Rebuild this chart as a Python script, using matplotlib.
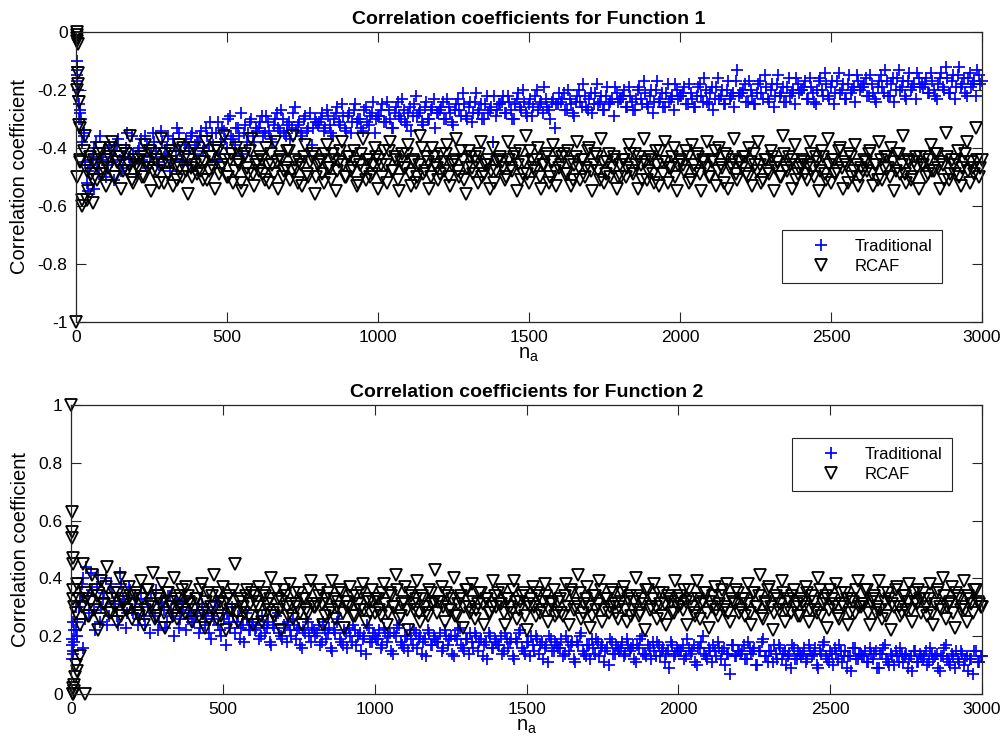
import numpy as np
import matplotlib.pyplot as plt
from matplotlib.ticker import FuncFormatter

plt.rcParams['font.family'] = ['Liberation Sans', 'DejaVu Sans']
plt.rcParams['axes.unicode_minus'] = False


# Data (values in hundredths)
# "_a" lists: n_a = 10, 20, ..., 3000 ; "_b" lists: n_a = 5, 15, ..., 2995

trad_f1_a = [
    -30, -38, -45, -48, -44, -40, -47, -36, -43, -50, -39, -45, -41, -37, -48, -43, -35, -46, -42, -49,
    -40, -44, -36, -47, -42, -38, -45, -34, -43, -40, -48, -37, -41, -35, -44, -39, -46, -36, -42, -38,
    -36, -41, -33, -39, -35, -44, -31, -38, -34, -40, -29, -37, -33, -36, -42, -32, -35, -30, -38, -34,
    -31, -36, -29, -34, -38, -30, -33, -27, -35, -32, -37, -28, -34, -31, -36, -29, -33, -39, -30, -32,
    -30, -34, -27, -32, -36, -28, -31, -25, -33, -29, -35, -27, -31, -30, -34, -26, -32, -28, -35, -29,
    -27, -31, -24, -30, -33, -26, -29, -23, -31, -28, -34, -25, -29, -27, -32, -24, -30, -26, -33, -28,
    -26, -30, -23, -28, -32, -25, -27, -21, -29, -26, -31, -24, -28, -25, -30, -22, -27, -38, -29, -25,
    -24, -28, -22, -27, -30, -23, -26, -20, -28, -25, -29, -22, -27, -24, -19, -26, -30, -23, -25, -21,
    -23, -27, -20, -25, -29, -22, -24, -18, -26, -23, -28, -21, -25, -22, -27, -19, -24, -29, -21, -23,
    -22, -26, -19, -24, -27, -20, -23, -17, -25, -22, -28, -20, -24, -21, -26, -18, -23, -27, -20, -22,
    -21, -25, -18, -23, -26, -19, -22, -16, -24, -21, -27, -19, -23, -20, -25, -17, -22, -26, -13, -21,
    -20, -24, -17, -22, -25, -18, -21, -15, -23, -20, -26, -18, -22, -19, -24, -16, -21, -25, -18, -20,
    -19, -23, -16, -21, -25, -17, -20, -14, -22, -19, -25, -17, -21, -18, -23, -15, -20, -24, -17, -19,
    -18, -22, -15, -21, -24, -17, -19, -13, -22, -18, -24, -16, -20, -17, -23, -14, -19, -23, -16, -18,
    -18, -21, -14, -20, -23, -16, -19, -12, -21, -17, -23, -15, -19, -16, -22, -14, -18, -22, -15, -17,
]
trad_f1_b = [
    -12, -27, -36, -52, -46, -43, -38, -49, -44, -40, -46, -42, -51, -39, -44, -47, -40, -43, -36, -45,
    -41, -37, -45, -39, -43, -35, -41, -46, -38, -42, -36, -44, -39, -33, -41, -45, -37, -40, -35, -39,
    -38, -34, -40, -36, -31, -39, -35, -42, -33, -37, -30, -36, -39, -33, -28, -35, -38, -31, -36, -33,
    -33, -29, -35, -31, -37, -32, -28, -34, -30, -36, -31, -33, -26, -32, -35, -30, -34, -28, -33, -31,
    -31, -28, -33, -29, -35, -30, -26, -32, -29, -34, -28, -31, -25, -30, -33, -27, -31, -29, -24, -30,
    -29, -25, -31, -27, -33, -28, -24, -30, -27, -32, -26, -29, -22, -28, -31, -26, -30, -27, -23, -28,
    -27, -24, -30, -26, -31, -27, -23, -29, -25, -30, -24, -28, -21, -27, -30, -25, -28, -26, -22, -27,
    -25, -22, -28, -24, -30, -25, -21, -27, -24, -29, -23, -26, -20, -25, -28, -23, -27, -24, -33, -25,
    -24, -21, -27, -23, -28, -24, -20, -26, -22, -27, -21, -25, -18, -24, -27, -22, -25, -23, -19, -24,
    -23, -20, -26, -22, -27, -23, -19, -25, -21, -26, -20, -24, -17, -23, -26, -21, -24, -22, -18, -23,
    -22, -19, -25, -21, -26, -22, -18, -24, -20, -25, -19, -23, -16, -22, -25, -20, -23, -21, -17, -22,
    -21, -18, -24, -20, -25, -21, -17, -23, -19, -24, -18, -22, -15, -21, -24, -19, -22, -20, -16, -21,
    -20, -17, -23, -19, -24, -20, -16, -22, -18, -23, -17, -21, -14, -20, -23, -18, -21, -19, -15, -20,
    -19, -16, -22, -18, -23, -19, -15, -21, -17, -22, -16, -20, -13, -19, -22, -17, -20, -18, -14, -19,
    -19, -16, -21, -17, -22, -18, -14, -20, -16, -21, -15, -19, -12, -18, -21, -16, -19, -17, -13, -18,
]

rcaf_f1_a = [
    -32, -58, -36, -55, -49, -44, -51, -40, -47, -53, -43, -38, -50, -45, -54, -41, -48, -36, -52, -46,
    -44, -50, -39, -47, -55, -42, -48, -37, -52, -45, -41, -53, -46, -39, -50, -43, -56, -47, -40, -49,
    -45, -51, -38, -48, -43, -54, -41, -47, -36, -50, -44, -52, -40, -46, -55, -42, -49, -37, -53, -45,
    -43, -49, -40, -52, -46, -38, -54, -44, -48, -41, -51, -36, -47, -45, -53, -39, -50, -43, -56, -46,
    -44, -52, -39, -47, -42, -55, -45, -38, -50, -43, -48, -41, -53, -46, -37, -51, -44, -49, -40, -54,
    -46, -41, -52, -38, -48, -44, -55, -42, -47, -39, -53, -45, -50, -36, -49, -43, -54, -40, -46, -51,
    -42, -48, -39, -53, -45, -37, -50, -44, -56, -41, -47, -43, -52, -38, -49, -46, -54, -40, -48, -44,
    -45, -51, -38, -47, -43, -55, -41, -49, -36, -52, -44, -48, -40, -54, -46, -42, -50, -39, -53, -47,
    -43, -49, -41, -53, -46, -38, -51, -44, -47, -40, -55, -42, -48, -37, -52, -45, -50, -43, -54, -46,
    -44, -50, -39, -48, -42, -54, -46, -37, -51, -43, -49, -41, -53, -45, -38, -52, -47, -40, -55, -44,
    -46, -41, -52, -39, -48, -43, -55, -45, -38, -50, -44, -53, -40, -47, -42, -54, -46, -37, -51, -45,
    -43, -49, -40, -53, -46, -38, -52, -44, -48, -41, -55, -45, -50, -36, -47, -43, -54, -39, -49, -46,
    -45, -51, -38, -47, -43, -55, -41, -49, -37, -52, -44, -48, -40, -54, -46, -42, -50, -39, -53, -47,
    -44, -48, -41, -53, -46, -38, -51, -43, -47, -40, -55, -42, -49, -36, -52, -45, -50, -43, -54, -46,
    -43, -49, -39, -48, -42, -54, -46, -35, -51, -44, -49, -41, -53, -45, -38, -52, -47, -33, -50, -44,
]
rcaf_f1_b = [
    -20, -45, -41, -48, -43, -51, -46, -42, -49, -44, -47, -40, -50, -45, -43, -48, -42, -46, -51, -44,
    -47, -43, -50, -45, -41, -48, -44, -52, -46, -42, -49, -45, -43, -51, -47, -40, -48, -44, -50, -46,
    -42, -48, -45, -51, -43, -47, -40, -49, -46, -44, -50, -42, -48, -45, -52, -43, -47, -41, -49, -46,
    -48, -44, -51, -46, -42, -49, -45, -43, -50, -47, -41, -48, -44, -52, -46, -43, -49, -45, -42, -50,
    -45, -49, -42, -47, -51, -44, -48, -41, -46, -50, -43, -47, -45, -52, -42, -48, -44, -50, -46, -43,
    -44, -50, -46, -41, -48, -43, -51, -45, -47, -42, -49, -44, -52, -46, -40, -48, -45, -50, -43, -47,
    -49, -45, -42, -50, -46, -44, -48, -41, -51, -47, -43, -49, -45, -42, -50, -46, -44, -48, -52, -45,
    -43, -47, -50, -44, -48, -42, -46, -51, -45, -49, -41, -47, -44, -50, -46, -43, -52, -45, -48, -42,
    -46, -42, -49, -45, -51, -43, -47, -44, -50, -41, -48, -46, -43, -51, -45, -49, -42, -47, -44, -50,
    -50, -44, -47, -42, -49, -46, -43, -51, -45, -48, -44, -52, -46, -41, -49, -45, -47, -43, -50, -46,
    -45, -48, -43, -51, -46, -42, -49, -44, -47, -50, -45, -41, -48, -46, -52, -43, -47, -44, -49, -45,
    -47, -43, -50, -45, -42, -48, -46, -51, -44, -49, -43, -47, -45, -50, -42, -48, -46, -44, -51, -47,
    -44, -49, -46, -42, -50, -45, -48, -43, -51, -46, -44, -49, -41, -47, -45, -52, -43, -48, -46, -50,
    -48, -45, -42, -49, -46, -51, -44, -47, -43, -50, -45, -48, -42, -46, -49, -44, -51, -45, -47, -43,
    -46, -50, -44, -48, -42, -47, -45, -51, -43, -49, -46, -44, -50, -47, -42, -48, -45, -49, -44, -47,
]

trad_f2_a = [
    18, 25, 32, 40, 44, 28, 36, 22, 41, 30, 35, 24, 38, 31, 27, 42, 33, 23, 37, 29,
    30, 24, 35, 27, 33, 21, 29, 36, 25, 31, 23, 34, 28, 20, 32, 26, 30, 22, 28, 25,
    27, 21, 31, 24, 29, 19, 26, 32, 22, 28, 17, 25, 30, 21, 27, 23, 18, 26, 22, 24,
    23, 19, 27, 21, 25, 17, 23, 28, 20, 24, 18, 22, 26, 19, 23, 16, 21, 25, 18, 22,
    21, 17, 25, 19, 23, 15, 21, 26, 18, 22, 16, 20, 24, 17, 21, 19, 14, 23, 18, 20,
    19, 16, 23, 18, 21, 14, 20, 24, 17, 20, 15, 19, 22, 16, 20, 18, 13, 21, 17, 19,
    18, 15, 22, 17, 20, 13, 19, 23, 16, 19, 14, 18, 21, 15, 19, 17, 12, 20, 16, 18,
    17, 14, 21, 16, 19, 12, 18, 22, 15, 18, 13, 17, 20, 14, 18, 16, 11, 19, 15, 17,
    16, 13, 20, 15, 18, 11, 17, 21, 14, 17, 12, 16, 19, 13, 17, 15, 10, 18, 14, 16,
    16, 13, 19, 15, 17, 11, 16, 20, 14, 17, 12, 15, 18, 13, 16, 14, 9, 17, 14, 15,
    15, 12, 19, 14, 17, 10, 16, 20, 13, 16, 11, 15, 18, 12, 16, 14, 7, 17, 13, 15,
    15, 12, 18, 14, 16, 10, 15, 19, 13, 15, 11, 14, 17, 12, 15, 13, 9, 16, 12, 14,
    14, 11, 17, 13, 16, 9, 14, 18, 12, 15, 10, 14, 17, 11, 15, 13, 8, 16, 12, 14,
    13, 11, 16, 12, 15, 9, 14, 17, 11, 14, 10, 13, 16, 11, 14, 12, 8, 15, 11, 13,
    13, 10, 16, 12, 14, 8, 13, 17, 11, 14, 9, 12, 15, 10, 13, 12, 7, 15, 11, 13,
]
trad_f2_b = [
    14, 22, 30, 38, 26, 34, 42, 29, 37, 25, 33, 40, 27, 35, 30, 24, 38, 32, 28, 36,
    28, 33, 26, 31, 24, 30, 35, 27, 22, 32, 29, 25, 34, 27, 31, 23, 29, 33, 26, 28,
    25, 29, 23, 28, 26, 21, 27, 30, 24, 20, 26, 28, 23, 27, 25, 19, 24, 28, 22, 25,
    22, 26, 20, 24, 23, 18, 24, 27, 21, 19, 23, 25, 20, 24, 22, 17, 22, 26, 20, 23,
    20, 24, 18, 22, 21, 16, 22, 25, 19, 17, 21, 23, 18, 22, 20, 15, 20, 24, 18, 21,
    19, 22, 17, 21, 20, 15, 21, 23, 18, 16, 20, 22, 17, 21, 19, 14, 19, 22, 17, 20,
    18, 21, 16, 20, 19, 14, 20, 22, 17, 15, 19, 21, 16, 20, 18, 13, 18, 21, 16, 19,
    17, 20, 15, 19, 18, 13, 19, 21, 16, 14, 18, 20, 15, 19, 17, 12, 17, 20, 15, 18,
    16, 19, 14, 18, 17, 12, 18, 20, 15, 13, 17, 19, 14, 18, 16, 11, 16, 19, 14, 17,
    15, 18, 14, 17, 16, 12, 17, 19, 14, 13, 16, 18, 13, 17, 15, 11, 15, 18, 13, 16,
    15, 17, 13, 16, 15, 11, 16, 18, 14, 12, 15, 17, 13, 16, 15, 10, 14, 17, 13, 15,
    14, 17, 12, 16, 15, 10, 15, 18, 13, 11, 15, 17, 12, 16, 14, 10, 14, 17, 12, 15,
    13, 16, 12, 15, 14, 10, 15, 17, 13, 11, 14, 16, 12, 15, 13, 9, 13, 16, 12, 14,
    13, 15, 11, 14, 14, 9, 14, 16, 12, 10, 13, 15, 11, 14, 13, 9, 13, 15, 11, 14,
    12, 15, 11, 14, 13, 9, 13, 16, 12, 10, 13, 15, 11, 14, 12, 8, 12, 15, 11, 13,
]

rcaf_f2_a = [
    30, 38, 24, 45, 33, 27, 41, 36, 22, 39, 31, 44, 28, 35, 25, 40, 33, 29, 37, 26,
    34, 28, 39, 24, 36, 31, 42, 27, 33, 38, 23, 35, 30, 40, 26, 34, 29, 37, 32, 25,
    33, 27, 38, 23, 35, 30, 41, 26, 32, 37, 22, 34, 29, 45, 25, 33, 28, 36, 31, 24,
    32, 37, 25, 34, 29, 40, 27, 33, 22, 36, 30, 38, 26, 31, 35, 24, 33, 28, 39, 30,
    31, 36, 24, 33, 28, 39, 26, 32, 35, 23, 30, 37, 27, 34, 29, 38, 25, 32, 36, 28,
    33, 27, 38, 24, 35, 30, 41, 26, 31, 37, 22, 34, 29, 39, 25, 33, 28, 36, 31, 43,
    32, 37, 25, 34, 29, 40, 27, 33, 23, 36, 30, 38, 26, 31, 35, 24, 33, 28, 39, 30,
    31, 36, 24, 33, 28, 39, 26, 32, 35, 22, 30, 37, 27, 34, 29, 38, 25, 32, 36, 28,
    33, 27, 38, 24, 35, 30, 41, 26, 31, 37, 23, 34, 29, 39, 25, 33, 28, 36, 31, 26,
    32, 37, 25, 34, 29, 40, 27, 33, 22, 36, 30, 38, 26, 31, 35, 24, 33, 28, 39, 30,
    31, 36, 24, 33, 28, 39, 26, 32, 35, 23, 30, 37, 27, 34, 29, 38, 25, 32, 36, 28,
    33, 27, 38, 24, 35, 30, 41, 26, 31, 37, 22, 34, 29, 39, 25, 33, 28, 36, 31, 27,
    32, 37, 25, 34, 29, 40, 27, 33, 23, 36, 30, 38, 26, 31, 35, 24, 33, 28, 39, 30,
    31, 36, 24, 33, 28, 39, 26, 32, 35, 22, 30, 37, 27, 34, 29, 38, 25, 32, 36, 28,
    33, 27, 38, 24, 35, 30, 40, 26, 31, 37, 23, 34, 29, 39, 25, 33, 28, 36, 31, 30,
]
rcaf_f2_b = [
    36, 28, 33, 30, 35, 27, 32, 29, 34, 26, 31, 37, 28, 33, 30, 35, 27, 32, 29, 34,
    31, 35, 27, 33, 29, 36, 30, 26, 34, 31, 28, 35, 32, 27, 33, 30, 36, 28, 34, 31,
    29, 33, 36, 28, 32, 26, 34, 30, 35, 27, 31, 33, 29, 36, 28, 32, 30, 34, 27, 35,
    34, 30, 27, 35, 31, 33, 28, 36, 29, 32, 34, 27, 31, 35, 30, 28, 33, 29, 36, 31,
    30, 34, 31, 27, 35, 29, 33, 30, 36, 28, 32, 30, 34, 27, 31, 35, 29, 33, 28, 32,
    33, 29, 35, 31, 28, 34, 30, 36, 27, 32, 29, 35, 31, 33, 28, 34, 30, 27, 35, 32,
    28, 32, 30, 35, 29, 33, 27, 31, 34, 30, 36, 28, 32, 29, 35, 31, 33, 28, 30, 34,
    35, 31, 28, 33, 30, 36, 32, 29, 34, 27, 31, 33, 30, 35, 28, 32, 34, 29, 31, 27,
    32, 28, 34, 30, 36, 29, 31, 35, 28, 33, 30, 27, 34, 31, 36, 29, 33, 30, 35, 28,
    30, 35, 29, 33, 27, 32, 34, 28, 31, 36, 29, 33, 30, 35, 27, 31, 34, 32, 28, 33,
    34, 29, 32, 36, 30, 27, 33, 31, 35, 28, 32, 34, 29, 31, 36, 30, 28, 33, 31, 35,
    29, 33, 31, 28, 35, 30, 34, 27, 32, 36, 30, 28, 33, 31, 35, 29, 32, 34, 30, 27,
    33, 30, 35, 29, 32, 28, 36, 31, 34, 29, 33, 31, 27, 35, 30, 33, 28, 32, 36, 30,
    31, 36, 28, 32, 34, 30, 29, 35, 27, 33, 31, 36, 30, 28, 34, 32, 29, 35, 31, 33,
    35, 30, 33, 28, 31, 36, 29, 34, 30, 32, 28, 35, 33, 30, 29, 34, 31, 36, 32, 30,
]

# first few samples (small n_a), read separately
early_na_t1 = [2, 3, 4, 5, 6, 8, 10, 14, 18, 25, 40, 60]
early_t1 = [-0.10, -0.13, -0.17, -0.15, -0.22, -0.20, -0.25, -0.28, -0.30, -0.35, -0.55, -0.54]
early_na_r1 = [1, 2, 3, 4, 5, 6, 7, 8, 9, 12, 15, 20, 35, 55, 3]
early_r1 = [-1.0, 0.0, -0.01, -0.02, -0.03, -0.04, -0.14, -0.18, -0.24, -0.33, -0.44, -0.60, -0.58, -0.59, -0.50]
early_na_t2 = [2, 3, 4, 6, 8, 10, 15, 20, 30, 40]
early_t2 = [0.19, 0.17, 0.12, 0.15, 0.25, 0.22, 0.30, 0.20, 0.35, 0.16]
early_na_r2 = [1, 2, 3, 4, 5, 6, 7, 8, 9, 10, 12, 15, 20, 30, 45, 5, 8]
early_r2 = [1.0, 0.63, 0.56, 0.54, 0.47, 0.45, 0.02, 0.0, 0.01, 0.03, 0.06, 0.10, 0.08, 0.13, 0.0, 0.0, 0.33]


def series(early_na, early_val, vals_a, vals_b):
    na = np.concatenate([early_na,
                         10 * np.arange(1, len(vals_a) + 1),
                         10 * np.arange(1, len(vals_b) + 1) - 5])
    val = np.concatenate([early_val, np.array(vals_a) / 100.0, np.array(vals_b) / 100.0])
    return na, val


panels = [
    ("Correlation coefficients for Function 1",
     series(early_na_t1, early_t1, trad_f1_a, trad_f1_b),
     series(early_na_r1, early_r1, rcaf_f1_a, rcaf_f1_b),
     (-1, 0), np.arange(-1, 0.01, 0.2)),
    ("Correlation coefficients for Function 2",
     series(early_na_t2, early_t2, trad_f2_a, trad_f2_b),
     series(early_na_r2, early_r2, rcaf_f2_a, rcaf_f2_b),
     (0, 1), np.arange(0, 1.01, 0.2)),
]

# axes boxes in figure fractions (matched to the reference layout)
boxes = [[0.0755, 0.5643, 0.9006, 0.3924], [0.0706, 0.0609, 0.9056, 0.3911]]
legend_anchor = [(0.779, 0.134), (0.791, 0.702)]

fig = plt.figure(figsize=(10.06, 7.39), dpi=100)
edge = '#262626'

for i, (title, (na_t, val_t), (na_r, val_r), ylim, yt) in enumerate(panels):
    ax = fig.add_axes(boxes[i])

    ax.plot(na_t, val_t, '+', color='blue', ms=8.5, mew=1.25, label='Traditional', clip_on=False)
    ax.plot(na_r, val_r, 'v', color='black', mfc='none', ms=8.5, mew=1.3, label='RCAF', clip_on=False)

    ax.set_xlim(0, 3000)
    ax.set_ylim(*ylim)
    ax.set_yticks(yt)
    ax.set_xticks(np.arange(0, 3001, 500))
    ax.yaxis.set_major_formatter(FuncFormatter(lambda v, p: '%g' % (round(v, 2) + 0.0)))
    ax.tick_params(direction='in', length=7, width=0.8, color=edge, labelsize=12.5,
                   top=True, right=True, pad=6)
    for s in ax.spines.values():
        s.set_color(edge)
        s.set_linewidth(0.9)

    ax.set_title(title, fontsize=14, fontweight='bold', pad=6)
    ax.set_ylabel('Correlation coefficient', fontsize=14.5, labelpad=6)
    ax.set_xlabel(r'n$_\mathregular{a}$', fontsize=14.5, labelpad=0)

    leg = ax.legend(loc='lower left', bbox_to_anchor=legend_anchor[i], fontsize=12,
                    fancybox=False, edgecolor=edge, framealpha=1, borderpad=0.55,
                    borderaxespad=0, handletextpad=0.25, labelspacing=0.3,
                    handlelength=3.6, numpoints=1)
    leg.get_frame().set_linewidth(0.8)

fig.savefig('out.png', dpi=100)
